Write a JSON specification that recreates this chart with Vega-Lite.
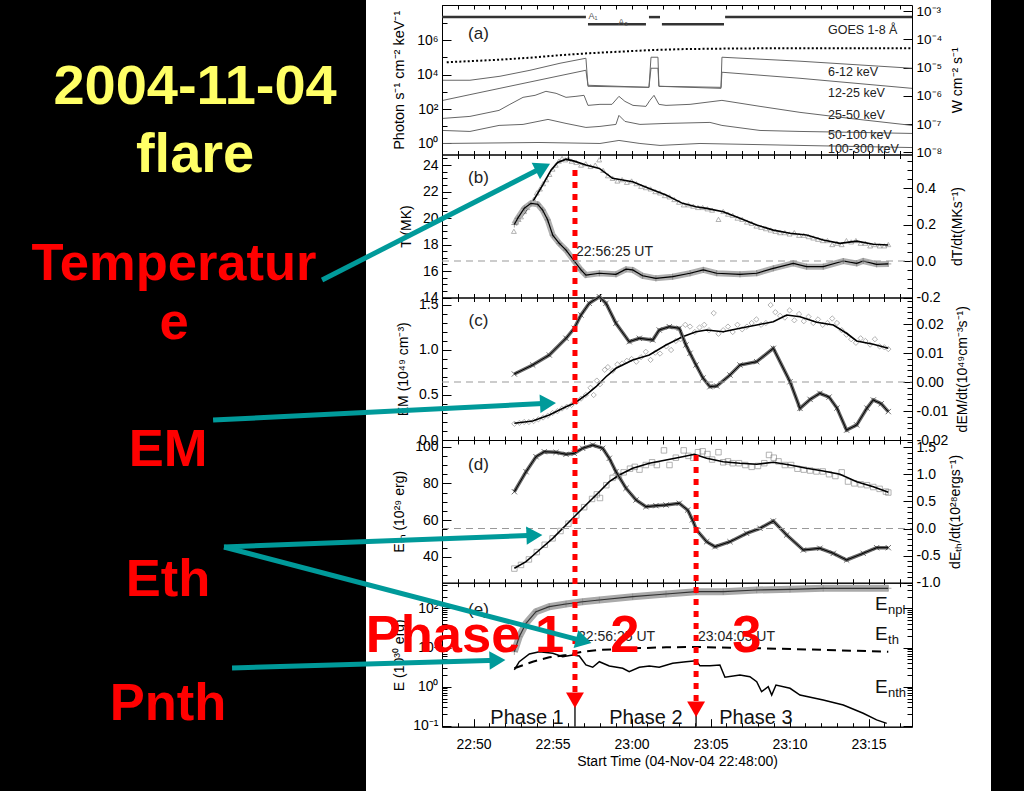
{
"$schema": "https://vega.github.io/schema/vega-lite/v6.json",
"width": 625, "height": 791,
"autosize": "none",
"padding": {"left": 366, "right": 33, "top": 0, "bottom": 0},
"background": "black",
"config": {
 "view": {"fill": "white", "stroke": null},
 "text": {"font": "Liberation Sans"},
 "axis": {"grid": false, "domainColor": "black", "tickColor": "black", "labelColor": "black", "titleColor": "black", "labelFont": "Liberation Sans", "titleFont": "Liberation Sans", "labelFontSize": 14, "titleFontSize": 14, "titleFontWeight": "normal", "labelOverlap": false, "labelFlush": false, "domainWidth": 1, "tickWidth": 1}
},
"datasets": {
 "bands": [
  {"t":0.06,"v":4700,"b":"1"},{"t":1.77,"v":4700,"b":"1"},{"t":3.67,"v":8000,"b":"1"},{"t":5.57,"v":17800,"b":"1"},{"t":7.47,"v":45500,"b":"1"},{"t":9.11,"v":89000,"b":"1"},{"t":9.24,"v":2090,"b":"1"},{"t":11.27,"v":1950,"b":"1"},{"t":13.1,"v":1820,"b":"1"},{"t":13.23,"v":102000,"b":"1"},{"t":13.67,"v":102000,"b":"1"},{"t":13.73,"v":2090,"b":"1"},{"t":15.7,"v":1950,"b":"1"},{"t":17.66,"v":1820,"b":"1"},{"t":17.72,"v":102000,"b":"1"},{"t":22.66,"v":60000,"b":"1"},{"t":29.75,"v":23400,"b":"1"},
  {"t":0.06,"v":318,"b":"2"},{"t":1.77,"v":686,"b":"2"},{"t":3.67,"v":1600,"b":"2"},{"t":5.57,"v":3720,"b":"2"},{"t":7.47,"v":8650,"b":"2"},{"t":9.11,"v":17850,"b":"2"},{"t":9.24,"v":2400,"b":"2"},{"t":13.1,"v":1820,"b":"2"},{"t":13.23,"v":23400,"b":"2"},{"t":13.67,"v":23400,"b":"2"},{"t":13.73,"v":2090,"b":"2"},{"t":17.66,"v":1590,"b":"2"},{"t":17.72,"v":13700,"b":"2"},{"t":22.66,"v":6100,"b":"2"},{"t":29.75,"v":1590,"b":"2"},
  {"t":0.06,"v":28.6,"b":"3"},{"t":1.77,"v":37.4,"b":"3"},{"t":3.61,"v":83.6,"b":"3"},{"t":4.3,"v":187,"b":"3"},{"t":5.13,"v":478,"b":"3"},{"t":5.89,"v":625,"b":"3"},{"t":6.58,"v":1069,"b":"3"},{"t":7.22,"v":817,"b":"3"},{"t":7.85,"v":478,"b":"3"},{"t":8.48,"v":546,"b":"3"},{"t":8.99,"v":625,"b":"3"},{"t":9.24,"v":163,"b":"3"},{"t":10.0,"v":187,"b":"3"},{"t":10.76,"v":187,"b":"3"},{"t":11.2,"v":546,"b":"3"},{"t":11.58,"v":279,"b":"3"},{"t":12.09,"v":163,"b":"3"},{"t":12.91,"v":143,"b":"3"},{"t":13.16,"v":319,"b":"3"},{"t":13.42,"v":625,"b":"3"},{"t":13.73,"v":187,"b":"3"},{"t":14.18,"v":163,"b":"3"},{"t":15.7,"v":187,"b":"3"},{"t":17.72,"v":319,"b":"3"},{"t":20.13,"v":143,"b":"3"},{"t":22.66,"v":64,"b":"3"},{"t":25.82,"v":28.6,"b":"3"},{"t":29.75,"v":11.2,"b":"3"},
  {"t":0.06,"v":5.7,"b":"4"},{"t":1.77,"v":5.0,"b":"4"},{"t":3.61,"v":11.2,"b":"4"},{"t":5.13,"v":12.8,"b":"4"},{"t":6.71,"v":25,"b":"4"},{"t":7.85,"v":14.6,"b":"4"},{"t":9.11,"v":8.55,"b":"4"},{"t":10.0,"v":9.8,"b":"4"},{"t":11.01,"v":12.8,"b":"4"},{"t":11.2,"v":42.7,"b":"4"},{"t":11.58,"v":19.1,"b":"4"},{"t":12.53,"v":12.8,"b":"4"},{"t":14.18,"v":14.6,"b":"4"},{"t":16.96,"v":16.7,"b":"4"},{"t":17.72,"v":11.2,"b":"4"},{"t":20.13,"v":5.7,"b":"4"},{"t":22.66,"v":5.0,"b":"4"},{"t":26.46,"v":4.37,"b":"4"},{"t":29.75,"v":3.82,"b":"4"},
  {"t":0.06,"v":1.0,"b":"5"},{"t":6.14,"v":1.14,"b":"5"},{"t":10.0,"v":1.0,"b":"5"},{"t":11.2,"v":1.5,"b":"5"},{"t":12.53,"v":1.0,"b":"5"},{"t":13.8,"v":0.77,"b":"5"},{"t":16.33,"v":1.0,"b":"5"},{"t":22.66,"v":0.77,"b":"5"},{"t":29.75,"v":0.58,"b":"5"}
 ],
 "atten": [{"t":0,"t2":9.11,"v":2.18e7},{"t":9.24,"t2":12.91,"v":8.5e6},{"t":13.1,"t2":13.8,"v":2.18e7},{"t":13.92,"t2":17.85,"v":8.5e6},{"t":17.92,"t2":29.75,"v":2.18e7}],
 "goes": [{"t":0.3,"v":1.55e-5},{"t":1.77,"v":1.69e-5},{"t":3.67,"v":1.91e-5},{"t":5.57,"v":2.24e-5},{"t":7.47,"v":2.75e-5},{"t":9.37,"v":3.24e-5},{"t":11.27,"v":3.67e-5},{"t":13.16,"v":4.14e-5},{"t":15.06,"v":4.49e-5},{"t":17.59,"v":4.68e-5},{"t":21.39,"v":4.87e-5},{"t":25.82,"v":4.87e-5},{"t":29.75,"v":4.87e-5}],
 "alabels": [{"t":24.43,"v":2.23e6,"text":"GOES 1-8 Å"},{"t":24.43,"v":8530,"text":"6-12 keV"},{"t":24.43,"v":478,"text":"12-25 keV"},{"t":24.43,"v":25,"text":"25-50 keV"},{"t":24.43,"v":1.71,"text":"50-100 keV"},{"t":24.43,"v":0.299,"text":"100-300 keV"}],
 "tline": [{"t":4.58,"v":19.6},{"t":5.11,"v":20.23},{"t":5.74,"v":21.23},{"t":6.37,"v":22.49},{"t":6.9,"v":23.62},{"t":7.32,"v":24.2},{"t":7.85,"v":24.45},{"t":8.37,"v":24.3},{"t":9.11,"v":24.0},{"t":9.96,"v":23.75},{"t":10.8,"v":23.0},{"t":12.07,"v":22.74},{"t":13.12,"v":22.24},{"t":14.18,"v":21.74},{"t":15.23,"v":21.11},{"t":16.08,"v":20.85},{"t":16.75,"v":20.73},{"t":17.8,"v":20.48},{"t":18.86,"v":19.98},{"t":19.92,"v":19.47},{"t":20.97,"v":19.09},{"t":22.03,"v":18.85},{"t":23.08,"v":18.72},{"t":24.13,"v":18.34},{"t":25.19,"v":18.09},{"t":26.25,"v":18.26},{"t":27.3,"v":18.02},{"t":28.25,"v":17.96}],
 "tpts": [{"t":4.55,"v":19.0},{"t":4.7,"v":19.7},{"t":4.85,"v":19.9},{"t":5.0,"v":20.1},{"t":5.2,"v":20.5},{"t":5.4,"v":20.8},{"t":5.6,"v":21.1},{"t":5.8,"v":21.4},{"t":6.0,"v":21.9},{"t":6.2,"v":22.2},{"t":6.4,"v":22.6},{"t":6.6,"v":22.9},{"t":6.8,"v":23.3},{"t":7.0,"v":23.7},{"t":7.2,"v":24.0},{"t":7.4,"v":24.3},{"t":7.6,"v":24.5},{"t":7.8,"v":24.4},{"t":8.0,"v":24.5},{"t":8.2,"v":24.3},{"t":8.5,"v":24.2},{"t":8.8,"v":24.0},{"t":9.1,"v":24.1},{"t":9.4,"v":23.9},{"t":9.7,"v":24.0},{"t":9.95,"v":24.4},{"t":10.2,"v":23.6},{"t":10.5,"v":23.2},{"t":10.8,"v":23.0},{"t":11.1,"v":22.8},{"t":11.4,"v":22.9},{"t":11.7,"v":22.7},{"t":12.0,"v":22.8},{"t":12.3,"v":22.6},{"t":12.6,"v":22.4},{"t":12.9,"v":22.3},{"t":13.2,"v":22.2},{"t":13.5,"v":22.0},{"t":13.8,"v":21.9},{"t":14.1,"v":21.7},{"t":14.4,"v":21.6},{"t":14.7,"v":21.4},{"t":15.0,"v":21.2},{"t":15.3,"v":21.0},{"t":15.6,"v":21.0},{"t":15.9,"v":20.9},{"t":16.2,"v":20.8},{"t":16.5,"v":20.8},{"t":16.8,"v":20.7},{"t":17.1,"v":20.6},{"t":17.5,"v":19.9},{"t":17.8,"v":20.5},{"t":18.1,"v":20.3},{"t":18.4,"v":20.2},{"t":18.7,"v":20.0},{"t":19.0,"v":19.9},{"t":19.3,"v":19.7},{"t":19.6,"v":19.6},{"t":19.9,"v":19.4},{"t":20.2,"v":19.3},{"t":20.5,"v":19.2},{"t":20.8,"v":19.1},{"t":21.1,"v":19.0},{"t":21.4,"v":18.9},{"t":21.7,"v":18.9},{"t":22.0,"v":18.8},{"t":22.3,"v":18.9},{"t":22.6,"v":18.7},{"t":22.9,"v":18.7},{"t":23.2,"v":18.6},{"t":23.5,"v":18.5},{"t":23.8,"v":18.4},{"t":24.1,"v":18.3},{"t":24.4,"v":18.3},{"t":24.7,"v":18.0},{"t":25.0,"v":18.1},{"t":25.3,"v":18.0},{"t":25.6,"v":18.3},{"t":25.9,"v":18.2},{"t":26.2,"v":18.3},{"t":26.5,"v":18.1},{"t":26.8,"v":18.1},{"t":27.1,"v":17.9},{"t":27.4,"v":18.0},{"t":27.7,"v":17.9},{"t":28.0,"v":17.9},{"t":28.25,"v":18.0}],
 "dt": [{"t":4.58,"v":0.2},{"t":4.79,"v":0.234},{"t":5.21,"v":0.289},{"t":5.63,"v":0.316},{"t":6.06,"v":0.311},{"t":6.37,"v":0.279},{"t":6.69,"v":0.225},{"t":7.01,"v":0.142},{"t":7.42,"v":0.097},{"t":7.85,"v":0.06},{"t":8.37,"v":0.0},{"t":8.8,"v":-0.049},{"t":9.11,"v":-0.077},{"t":9.96,"v":-0.067},{"t":11.01,"v":-0.073},{"t":11.65,"v":-0.045},{"t":12.07,"v":-0.049},{"t":12.7,"v":-0.081},{"t":13.54,"v":-0.095},{"t":14.6,"v":-0.086},{"t":15.7,"v":-0.067},{"t":16.54,"v":-0.049},{"t":17.39,"v":-0.067},{"t":18.86,"v":-0.073},{"t":19.92,"v":-0.067},{"t":20.97,"v":-0.04},{"t":22.23,"v":-0.013},{"t":23.08,"v":-0.031},{"t":24.13,"v":-0.031},{"t":25.4,"v":0.0},{"t":26.25,"v":-0.013},{"t":26.66,"v":0.0},{"t":27.51,"v":-0.018},{"t":28.25,"v":-0.016}],
 "emline": [{"t":4.58,"v":0.186},{"t":5.74,"v":0.211},{"t":6.79,"v":0.278},{"t":7.85,"v":0.37},{"t":8.37,"v":0.408},{"t":9.11,"v":0.5},{"t":9.75,"v":0.592},{"t":10.38,"v":0.703},{"t":11.01,"v":0.797},{"t":12.07,"v":0.889},{"t":13.12,"v":0.944},{"t":14.18,"v":1.056},{"t":15.23,"v":1.148},{"t":16.08,"v":1.203},{"t":16.75,"v":1.222},{"t":17.8,"v":1.203},{"t":18.86,"v":1.241},{"t":19.92,"v":1.278},{"t":20.97,"v":1.314},{"t":21.82,"v":1.389},{"t":22.66,"v":1.37},{"t":23.72,"v":1.308},{"t":24.77,"v":1.278},{"t":25.61,"v":1.186},{"t":26.25,"v":1.1},{"t":27.3,"v":1.063},{"t":28.25,"v":1.019}],
 "empts": [{"t":4.58,"v":0.18},{"t":4.9,"v":0.19},{"t":5.2,"v":0.2},{"t":5.5,"v":0.2},{"t":5.8,"v":0.21},{"t":6.1,"v":0.23},{"t":6.4,"v":0.25},{"t":6.7,"v":0.27},{"t":7.0,"v":0.3},{"t":7.3,"v":0.32},{"t":7.6,"v":0.35},{"t":7.9,"v":0.37},{"t":8.2,"v":0.39},{"t":8.5,"v":0.42},{"t":8.8,"v":0.46},{"t":9.1,"v":0.5},{"t":9.4,"v":0.58},{"t":9.6,"v":0.5},{"t":9.8,"v":0.66},{"t":10.0,"v":0.62},{"t":10.3,"v":0.78},{"t":10.5,"v":0.81},{"t":10.8,"v":0.77},{"t":11.1,"v":0.84},{"t":11.4,"v":0.85},{"t":11.7,"v":0.88},{"t":12.0,"v":0.9},{"t":12.3,"v":0.87},{"t":12.6,"v":0.92},{"t":12.9,"v":0.98},{"t":13.2,"v":0.89},{"t":13.5,"v":0.97},{"t":13.8,"v":0.96},{"t":14.2,"v":1.04},{"t":14.5,"v":1.0},{"t":14.8,"v":1.1},{"t":15.1,"v":1.12},{"t":15.4,"v":1.28},{"t":15.7,"v":1.26},{"t":16.0,"v":1.2},{"t":16.3,"v":1.25},{"t":16.6,"v":1.28},{"t":16.9,"v":1.22},{"t":17.2,"v":1.41},{"t":17.5,"v":1.18},{"t":17.8,"v":1.22},{"t":18.1,"v":1.26},{"t":18.4,"v":1.2},{"t":18.7,"v":1.28},{"t":19.0,"v":1.23},{"t":19.3,"v":1.26},{"t":19.6,"v":1.3},{"t":19.9,"v":1.34},{"t":20.2,"v":1.28},{"t":20.5,"v":1.3},{"t":20.8,"v":1.5},{"t":21.1,"v":1.42},{"t":21.4,"v":1.38},{"t":21.7,"v":1.36},{"t":22.0,"v":1.44},{"t":22.3,"v":1.33},{"t":22.6,"v":1.4},{"t":22.9,"v":1.32},{"t":23.2,"v":1.37},{"t":23.5,"v":1.3},{"t":23.8,"v":1.34},{"t":24.1,"v":1.28},{"t":24.4,"v":1.3},{"t":24.7,"v":1.35},{"t":25.0,"v":1.3},{"t":25.3,"v":1.22},{"t":25.6,"v":1.17},{"t":25.9,"v":1.12},{"t":26.2,"v":1.08},{"t":26.5,"v":1.13},{"t":26.8,"v":1.1},{"t":27.1,"v":1.06},{"t":27.4,"v":1.12},{"t":27.7,"v":1.04},{"t":28.0,"v":1.03},{"t":28.25,"v":1.01}],
 "dem": [{"t":4.58,"v":0.00276},{"t":5.74,"v":0.00586},{"t":6.79,"v":0.00931},{"t":7.85,"v":0.01507},{"t":8.37,"v":0.01852},{"t":8.8,"v":0.0231},{"t":9.32,"v":0.02714},{"t":9.96,"v":0.02941},{"t":10.38,"v":0.02714},{"t":11.01,"v":0.02024},{"t":11.85,"v":0.0139},{"t":12.49,"v":0.01507},{"t":13.34,"v":0.01448},{"t":13.75,"v":0.01793},{"t":14.39,"v":0.01907},{"t":15.02,"v":0.01852},{"t":15.44,"v":0.01276},{"t":15.7,"v":0.0099},{"t":16.08,"v":0.00586},{"t":16.52,"v":0.00138},{"t":16.96,"v":-0.00162},{"t":17.39,"v":-0.00138},{"t":18.23,"v":0.00241},{"t":18.86,"v":0.00586},{"t":19.92,"v":0.007},{"t":20.97,"v":0.01162},{"t":22.03,"v":0.0001},{"t":22.66,"v":-0.0091},{"t":23.3,"v":-0.006},{"t":23.92,"v":-0.0039},{"t":24.5,"v":-0.0052},{"t":25.0,"v":-0.009},{"t":25.61,"v":-0.0166},{"t":26.25,"v":-0.0148},{"t":26.9,"v":-0.009},{"t":27.3,"v":-0.0062},{"t":27.8,"v":-0.0075},{"t":28.25,"v":-0.0102}],
 "ethline": [{"t":4.58,"v":33.66},{"t":5.32,"v":37.26},{"t":6.16,"v":43.64},{"t":7.01,"v":50.03},{"t":7.85,"v":57.28},{"t":8.37,"v":61.81},{"t":9.11,"v":68.19},{"t":9.96,"v":75.45},{"t":10.59,"v":80.91},{"t":11.22,"v":84.56},{"t":12.07,"v":88.22},{"t":13.12,"v":90.94},{"t":14.18,"v":92.74},{"t":15.23,"v":94.54},{"t":15.97,"v":95.85},{"t":16.75,"v":93.67},{"t":17.8,"v":91.82},{"t":18.86,"v":90.94},{"t":19.92,"v":90.4},{"t":20.97,"v":91.49},{"t":22.03,"v":90.02},{"t":23.08,"v":88.22},{"t":24.13,"v":86.74},{"t":25.19,"v":84.94},{"t":26.25,"v":80.91},{"t":27.3,"v":78.18},{"t":28.25,"v":75.12}],
 "ethpts": [{"t":4.58,"v":33.5},{"t":5.0,"v":35.5},{"t":5.5,"v":38.5},{"t":6.0,"v":42.5},{"t":6.5,"v":46.5},{"t":7.0,"v":50},{"t":7.5,"v":54},{"t":8.0,"v":58},{"t":8.5,"v":62.5},{"t":9.0,"v":67},{"t":9.5,"v":71.5},{"t":9.8,"v":74},{"t":10.0,"v":72},{"t":10.4,"v":79},{"t":10.8,"v":83},{"t":11.2,"v":84},{"t":11.5,"v":86},{"t":11.9,"v":88},{"t":12.2,"v":89},{"t":12.5,"v":87.5},{"t":12.9,"v":90},{"t":13.3,"v":91.5},{"t":13.6,"v":90},{"t":14.05,"v":98},{"t":14.4,"v":90},{"t":14.8,"v":94},{"t":15.3,"v":98},{"t":15.6,"v":95},{"t":15.9,"v":94},{"t":16.2,"v":97},{"t":16.5,"v":97.5},{"t":16.8,"v":96},{"t":17.1,"v":93},{"t":17.5,"v":97},{"t":17.8,"v":91.5},{"t":18.1,"v":92},{"t":18.4,"v":91},{"t":18.8,"v":91},{"t":19.2,"v":90},{"t":19.6,"v":89},{"t":20.0,"v":89.5},{"t":20.4,"v":91},{"t":20.7,"v":95.5},{"t":21.0,"v":94},{"t":21.3,"v":92},{"t":21.7,"v":90},{"t":22.1,"v":90},{"t":22.5,"v":88},{"t":22.9,"v":87.5},{"t":23.3,"v":87},{"t":23.7,"v":86.5},{"t":24.1,"v":86.5},{"t":24.5,"v":85},{"t":24.9,"v":84},{"t":25.3,"v":86},{"t":25.7,"v":81},{"t":26.1,"v":80},{"t":26.5,"v":79.5},{"t":26.9,"v":79},{"t":27.3,"v":78},{"t":27.7,"v":77},{"t":28.1,"v":75.5},{"t":28.25,"v":75}],
 "deth": [{"t":4.58,"v":0.679},{"t":5.32,"v":1.048},{"t":5.95,"v":1.325},{"t":6.47,"v":1.417},{"t":7.22,"v":1.406},{"t":7.85,"v":1.369},{"t":8.37,"v":1.387},{"t":8.9,"v":1.48},{"t":9.54,"v":1.541},{"t":10.17,"v":1.48},{"t":10.59,"v":1.295},{"t":11.01,"v":1.048},{"t":11.65,"v":0.742},{"t":12.28,"v":0.526},{"t":12.91,"v":0.402},{"t":13.54,"v":0.421},{"t":14.18,"v":0.434},{"t":15.02,"v":0.465},{"t":15.55,"v":0.341},{"t":15.85,"v":0.16},{"t":16.12,"v":-0.03},{"t":16.75,"v":-0.244},{"t":17.28,"v":-0.336},{"t":18.23,"v":-0.244},{"t":19.28,"v":-0.089},{"t":20.13,"v":0.004},{"t":20.97,"v":0.138},{"t":21.82,"v":-0.12},{"t":22.87,"v":-0.397},{"t":23.92,"v":-0.365},{"t":24.77,"v":-0.458},{"t":25.61,"v":-0.581},{"t":26.66,"v":-0.458},{"t":27.51,"v":-0.354},{"t":28.25,"v":-0.354}],
 "enpl": [{"t":4.58,"v":7.8},{"t":4.89,"v":18.9},{"t":5.32,"v":41.4},{"t":5.95,"v":81.9},{"t":6.79,"v":110},{"t":7.85,"v":129},{"t":8.9,"v":147},{"t":9.96,"v":163},{"t":12.07,"v":198},{"t":14.18,"v":232},{"t":16.08,"v":265},{"t":17.8,"v":265},{"t":19.92,"v":293},{"t":22.03,"v":305},{"t":24.13,"v":324},{"t":28.25,"v":324}],
 "ethe": [{"t":4.58,"v":2.95},{"t":5.74,"v":4.34},{"t":6.79,"v":5.62},{"t":7.85,"v":6.44},{"t":8.9,"v":7.81},{"t":9.96,"v":8.64},{"t":12.07,"v":9.55},{"t":14.18,"v":10.1},{"t":16.08,"v":10.3},{"t":19.92,"v":9.6},{"t":24.13,"v":8.7},{"t":28.25,"v":7.8}],
 "enth": [{"t":4.58,"v":2.67},{"t":4.89,"v":4.34},{"t":5.53,"v":6.83},{"t":6.16,"v":7.81},{"t":7.01,"v":7.11},{"t":7.64,"v":5.82},{"t":8.27,"v":6.44},{"t":8.69,"v":6.07},{"t":9.11,"v":3.58},{"t":9.54,"v":3.13},{"t":9.96,"v":4.34},{"t":10.59,"v":3.37},{"t":11.44,"v":2.95},{"t":11.85,"v":2.41},{"t":12.49,"v":3.13},{"t":13.12,"v":3.37},{"t":13.75,"v":3.13},{"t":14.6,"v":3.95},{"t":15.44,"v":4.34},{"t":16.08,"v":4.61},{"t":16.33,"v":3.4},{"t":16.96,"v":3.4},{"t":17.59,"v":3.58},{"t":17.91,"v":1.74},{"t":18.86,"v":1.99},{"t":19.49,"v":1.8},{"t":19.92,"v":1.34},{"t":20.23,"v":0.745},{"t":20.65,"v":1.0},{"t":20.87,"v":0.614},{"t":21.14,"v":1.1},{"t":22.03,"v":0.91},{"t":22.66,"v":0.614},{"t":24.13,"v":0.458},{"t":25.4,"v":0.341},{"t":26.66,"v":0.21},{"t":27.51,"v":0.142},{"t":28.15,"v":0.116}]
},
"encoding": {"x": {"field": "t", "type": "quantitative", "scale": {"domain": [0, 29.75], "range": [76, 546], "nice": false, "zero": false}, "axis": null}},
"resolve": {"scale": {"x": "independent", "y": "independent"}},
"layer": [
 {"data": {"values": [{"t": 0, "v": 1}]}, "mark": {"type": "point", "opacity": 0},
  "encoding": {
   "x": {"field": "t", "type": "quantitative", "scale": {"domain": [0, 29.75], "range": [76, 546], "nice": false, "zero": false}, "axis": {"orient": "top", "offset": -5, "values": [0,1,2,3,4,5,6,7,8,9,10,11,12,13,14,15,16,17,18,19,20,21,22,23,24,25,26,27,28,29], "tickSize": -4, "labels": false, "title": null}},
   "y": {"field": "v", "type": "quantitative", "scale": {"type": "log", "domain": [0.229, 1.1e8], "range": [154.5, 5], "nice": false}, "axis": {"orient": "left", "offset": -76, "values": [1, 100, 10000, 1000000], "tickSize": -9, "labelPadding": 13, "labelExpr": "'10' + (datum.value < 1 ? '⁻' : '') + substring('⁰¹²³⁴⁵⁶⁷⁸⁹', abs(round(log(datum.value)/LN10)), abs(round(log(datum.value)/LN10)) + 1)", "title": "Photon s⁻¹ cm⁻² keV⁻¹", "titleFontSize": 14.5, "titlePadding": 10}}}},
 {"data": {"values": [{"t": 0, "v": 1}]}, "mark": {"type": "point", "opacity": 0},
  "encoding": {
   "x": {"field": "t", "type": "quantitative", "scale": {"domain": [0, 29.75], "range": [76, 546], "nice": false, "zero": false}, "axis": {"orient": "bottom", "offset": -636.5, "values": [0,1,2,3,4,5,6,7,8,9,10,11,12,13,14,15,16,17,18,19,20,21,22,23,24,25,26,27,28,29], "tickSize": -4, "labels": false, "title": null}},
   "y": {"field": "v", "type": "quantitative", "scale": {"type": "log", "domain": [0.229, 1.1e8], "range": [154.5, 5], "nice": false}, "axis": {"orient": "left", "offset": -76, "values": [10, 1000, 100000, 10000000], "tickSize": -5, "labels": false, "title": null}}}},
 {"data": {"values": [{"t": 0, "v": 1e-6}]}, "mark": {"type": "point", "opacity": 0},
  "encoding": {
   "x": {"field": "t", "type": "quantitative", "scale": {"domain": [0, 29.75], "range": [76, 546], "nice": false, "zero": false}, "axis": {"orient": "top", "offset": -154.5, "values": [0,1,2,3,4,5,6,7,8,9,10,11,12,13,14,15,16,17,18,19,20,21,22,23,24,25,26,27,28,29], "tickSize": -4, "labels": false, "title": null}},
   "y": {"field": "v", "type": "quantitative", "scale": {"type": "log", "domain": [8.49e-9, 1.633e-3], "range": [154.5, 5], "nice": false}, "axis": {"orient": "right", "offset": -79, "values": [1e-8, 1e-7, 1e-6, 1e-5, 1e-4, 1e-3], "tickSize": -9, "labelPadding": 13, "labelFontSize": 13.5, "labelExpr": "'10' + (datum.value < 1 ? '⁻' : '') + substring('⁰¹²³⁴⁵⁶⁷⁸⁹', abs(round(log(datum.value)/LN10)), abs(round(log(datum.value)/LN10)) + 1)", "title": "W cm⁻² s⁻¹", "titleAngle": -90, "titleBaseline": "top", "titlePadding": 9}}}},
 {"data": {"values": [{"t": 0, "v": 20}]}, "mark": {"type": "point", "opacity": 0},
  "encoding": {
   "x": {"field": "t", "type": "quantitative", "scale": {"domain": [0, 29.75], "range": [76, 546], "nice": false, "zero": false}, "axis": {"orient": "bottom", "offset": -493.5, "values": [0,1,2,3,4,5,6,7,8,9,10,11,12,13,14,15,16,17,18,19,20,21,22,23,24,25,26,27,28,29], "tickSize": -4, "labels": false, "title": null}},
   "y": {"field": "v", "type": "quantitative", "scale": {"domain": [14, 24.8], "range": [297.5, 154.5], "nice": false, "zero": false}, "axis": {"orient": "left", "offset": -76, "values": [14, 16, 18, 20, 22, 24], "format": "d", "tickSize": -9, "labelPadding": 13, "title": "T (MK)", "titlePadding": 9}}}},
 {"data": {"values": [{"t": 0, "v": 20}]}, "mark": {"type": "point", "opacity": 0},
  "encoding": {
   "x": {"field": "t", "type": "quantitative", "scale": {"domain": [0, 29.75], "range": [76, 546], "nice": false, "zero": false}, "axis": {"orient": "top", "offset": -297.5, "values": [0,1,2,3,4,5,6,7,8,9,10,11,12,13,14,15,16,17,18,19,20,21,22,23,24,25,26,27,28,29], "tickSize": -4, "labels": false, "title": null}},
   "y": {"field": "v", "type": "quantitative", "scale": {"domain": [14, 24.8], "range": [297.5, 154.5], "nice": false, "zero": false}, "axis": {"orient": "left", "offset": -76, "values": [14,14.5,15,15.5,16,16.5,17,17.5,18,18.5,19,19.5,20,20.5,21,21.5,22,22.5,23,23.5,24,24.5], "tickSize": -5, "labels": false, "title": null}}}},
 {"data": {"values": [{"t": 0, "v": 0}]}, "mark": {"type": "point", "opacity": 0},
  "encoding": {
   "x": {"field": "t", "type": "quantitative", "scale": {"domain": [0, 29.75], "range": [76, 546], "nice": false, "zero": false}, "axis": {"orient": "bottom", "offset": -351, "values": [0,1,2,3,4,5,6,7,8,9,10,11,12,13,14,15,16,17,18,19,20,21,22,23,24,25,26,27,28,29], "tickSize": -4, "labels": false, "title": null}},
   "y": {"field": "v", "type": "quantitative", "scale": {"domain": [-0.2, 0.5836], "range": [297.5, 154.5], "nice": false, "zero": false}, "axis": {"orient": "right", "offset": -79, "values": [-0.2, 0, 0.2, 0.4], "labelExpr": "replace(format(datum.value, '.1f'), '−', '-')", "tickSize": -9, "labelPadding": 13, "title": "dT/dt(MKs⁻¹)", "titleAngle": -90, "titleBaseline": "top", "titlePadding": 10}}}},
 {"data": {"values": [{"t": 0, "v": 0}]}, "mark": {"type": "point", "opacity": 0},
  "encoding": {
   "x": {"field": "t", "type": "quantitative", "scale": {"domain": [0, 29.75], "range": [76, 546], "nice": false, "zero": false}, "axis": {"orient": "top", "offset": -440, "values": [0,1,2,3,4,5,6,7,8,9,10,11,12,13,14,15,16,17,18,19,20,21,22,23,24,25,26,27,28,29], "tickSize": -4, "labels": false, "title": null}},
   "y": {"field": "v", "type": "quantitative", "scale": {"domain": [-0.2, 0.5836], "range": [297.5, 154.5], "nice": false, "zero": false}, "axis": {"orient": "right", "offset": -79, "values": [-0.2,-0.15,-0.1,-0.05,0,0.05,0.1,0.15,0.2,0.25,0.3,0.35,0.4,0.45,0.5,0.55], "tickSize": -5, "labels": false, "title": null}}}},
 {"data": {"values": [{"t": 0, "v": 1}]}, "mark": {"type": "point", "opacity": 0},
  "encoding": {
   "x": {"field": "t", "type": "quantitative", "scale": {"domain": [0, 29.75], "range": [76, 546], "nice": false, "zero": false}, "axis": {"orient": "bottom", "offset": -208.3, "values": [0,1,2,3,4,5,6,7,8,9,10,11,12,13,14,15,16,17,18,19,20,21,22,23,24,25,26,27,28,29], "tickSize": -4, "labels": false, "title": null}},
   "y": {"field": "v", "type": "quantitative", "scale": {"domain": [0, 1.5833], "range": [440, 297.5], "nice": false, "zero": false}, "axis": {"orient": "left", "offset": -76, "values": [0, 0.5, 1, 1.5], "format": ".1f", "tickSize": -9, "labelPadding": 13, "title": "EM (10⁴⁹ cm⁻³)", "titlePadding": 8}}}},
 {"data": {"values": [{"t": 0, "v": 1}]}, "mark": {"type": "point", "opacity": 0},
  "encoding": {
   "x": {"field": "t", "type": "quantitative", "scale": {"domain": [0, 29.75], "range": [76, 546], "nice": false, "zero": false}, "axis": {"orient": "top", "offset": -582.7, "values": [0,1,2,3,4,5,6,7,8,9,10,11,12,13,14,15,16,17,18,19,20,21,22,23,24,25,26,27,28,29], "tickSize": -4, "labels": false, "title": null}},
   "y": {"field": "v", "type": "quantitative", "scale": {"domain": [0, 1.5833], "range": [440, 297.5], "nice": false, "zero": false}, "axis": {"orient": "left", "offset": -76, "values": [0,0.1,0.2,0.3,0.4,0.5,0.6,0.7,0.8,0.9,1,1.1,1.2,1.3,1.4,1.5], "tickSize": -5, "labels": false, "title": null}}}},
 {"data": {"values": [{"t": 0, "v": 0}]}, "mark": {"type": "point", "opacity": 0},
  "encoding": {
   "x": {"field": "t", "type": "quantitative", "scale": {"domain": [0, 29.75], "range": [76, 546], "nice": false, "zero": false}, "axis": {"orient": "bottom", "offset": -64.3, "values": [2, 7, 12, 17, 22, 27], "tickSize": -8, "labelPadding": 19, "labelExpr": "floor((1368 + datum.value) / 60) + ':' + ((1368 + datum.value) % 60 < 10 ? '0' : '') + ((1368 + datum.value) % 60)", "title": "Start Time (04-Nov-04 22:48:00)", "titlePadding": 3}},
   "y": {"field": "v", "type": "quantitative", "scale": {"domain": [-0.02, 0.02914], "range": [440, 297.5], "nice": false, "zero": false}, "axis": {"orient": "right", "offset": -79, "values": [-0.02, -0.01, 0, 0.01, 0.02], "labelExpr": "replace(format(datum.value, '.2f'), '−', '-')", "tickSize": -9, "labelPadding": 13, "title": "dEM/dt(10⁴⁹cm⁻³s⁻¹)", "titleAngle": -90, "titleBaseline": "top", "titlePadding": 8}}}},
 {"data": {"values": [{"t": 0, "v": 0}]}, "mark": {"type": "point", "opacity": 0},
  "encoding": {
   "x": {"field": "t", "type": "quantitative", "scale": {"domain": [0, 29.75], "range": [76, 546], "nice": false, "zero": false}, "axis": {"orient": "bottom", "offset": -64.3, "values": [0,1,2,3,4,5,6,7,8,9,10,11,12,13,14,15,16,17,18,19,20,21,22,23,24,25,26,27,28,29], "tickSize": -4, "labels": false, "title": null}},
   "y": {"field": "v", "type": "quantitative", "scale": {"domain": [-0.02, 0.02914], "range": [440, 297.5], "nice": false, "zero": false}, "axis": {"orient": "right", "offset": -79, "values": [-0.02,-0.018,-0.016,-0.014,-0.012,-0.01,-0.008,-0.006,-0.004,-0.002,0,0.002,0.004,0.006,0.008,0.01,0.012,0.014,0.016,0.018,0.02,0.022,0.024,0.026,0.028], "tickSize": -5, "labels": false, "title": null}}}},
 {"data": {"values": [{"t": 0, "v": 50}]}, "mark": {"type": "point", "opacity": 0},
  "encoding": {"y": {"field": "v", "type": "quantitative", "scale": {"domain": [25.8, 103.66], "range": [582.7, 440], "nice": false, "zero": false}, "axis": {"orient": "left", "offset": -76, "values": [40, 60, 80, 100], "format": "d", "tickSize": -9, "labelPadding": 13, "title": "Eₜₕ (10²⁹ erg)", "titlePadding": 8}}}},
 {"data": {"values": [{"t": 0, "v": 50}]}, "mark": {"type": "point", "opacity": 0},
  "encoding": {"y": {"field": "v", "type": "quantitative", "scale": {"domain": [25.8, 103.66], "range": [582.7, 440], "nice": false, "zero": false}, "axis": {"orient": "left", "offset": -76, "values": [30,35,40,45,50,55,60,65,70,75,80,85,90,95,100], "tickSize": -5, "labels": false, "title": null}}}},
 {"data": {"values": [{"t": 0, "v": 0}]}, "mark": {"type": "point", "opacity": 0},
  "encoding": {"y": {"field": "v", "type": "quantitative", "scale": {"domain": [-1.0, 1.633], "range": [582.7, 440], "nice": false, "zero": false}, "axis": {"orient": "right", "offset": -79, "values": [-1, -0.5, 0, 0.5, 1, 1.5], "labelExpr": "replace(format(datum.value, '.1f'), '−', '-')", "tickSize": -9, "labelPadding": 13, "title": "dEₜₕ/dt(10²⁸ergs⁻¹)", "titleAngle": -90, "titleBaseline": "top", "titlePadding": 8}}}},
 {"data": {"values": [{"t": 0, "v": 0}]}, "mark": {"type": "point", "opacity": 0},
  "encoding": {"y": {"field": "v", "type": "quantitative", "scale": {"domain": [-1.0, 1.633], "range": [582.7, 440], "nice": false, "zero": false}, "axis": {"orient": "right", "offset": -79, "values": [-1,-0.9,-0.8,-0.7,-0.6,-0.5,-0.4,-0.3,-0.2,-0.1,0,0.1,0.2,0.3,0.4,0.5,0.6,0.7,0.8,0.9,1,1.1,1.2,1.3,1.4,1.5,1.6], "tickSize": -5, "labels": false, "title": null}}}},
 {"data": {"values": [{"t": 0, "v": 1}]}, "mark": {"type": "point", "opacity": 0},
  "encoding": {"y": {"field": "v", "type": "quantitative", "scale": {"type": "log", "domain": [0.0954, 450], "range": [726.7, 582.7], "nice": false}, "axis": {"orient": "left", "offset": -76, "values": [0.1, 1, 10, 100], "labelExpr": "'10' + (datum.value < 1 ? '⁻' : '') + substring('⁰¹²³⁴⁵⁶⁷⁸⁹', abs(round(log(datum.value)/LN10)), abs(round(log(datum.value)/LN10)) + 1)", "tickSize": -9, "labelPadding": 13, "title": "E (10³⁰ erg)", "titlePadding": 6}}}},
 {"data": {"values": [{"t": 0, "v": 1}]}, "mark": {"type": "point", "opacity": 0},
  "encoding": {"y": {"field": "v", "type": "quantitative", "scale": {"type": "log", "domain": [0.0954, 450], "range": [726.7, 582.7], "nice": false}, "axis": {"orient": "left", "offset": -76, "values": [0.2,0.3,0.4,0.5,0.6,0.7,0.8,0.9,2,3,4,5,6,7,8,9,20,30,40,50,60,70,80,90,200,300,400], "tickSize": -5, "labels": false, "title": null}}}},
 {"data": {"values": [{"t": 0, "v": 1}]}, "mark": {"type": "point", "opacity": 0},
  "encoding": {"y": {"field": "v", "type": "quantitative", "scale": {"type": "log", "domain": [0.0954, 450], "range": [726.7, 582.7], "nice": false}, "axis": {"orient": "right", "offset": -79, "values": [0.1, 1, 10, 100], "tickSize": -9, "labels": false, "title": null}}}},
 {"data": {"values": [{"t": 0, "v": 1}]}, "mark": {"type": "point", "opacity": 0},
  "encoding": {"y": {"field": "v", "type": "quantitative", "scale": {"type": "log", "domain": [0.0954, 450], "range": [726.7, 582.7], "nice": false}, "axis": {"orient": "right", "offset": -79, "values": [0.2,0.3,0.4,0.5,0.6,0.7,0.8,0.9,2,3,4,5,6,7,8,9,20,30,40,50,60,70,80,90,200,300,400], "tickSize": -5, "labels": false, "title": null}}}},

 {"data": {"name": "bands"}, "mark": {"type": "line", "stroke": "#666", "strokeWidth": 1},
  "encoding": {"y": {"field": "v", "type": "quantitative", "scale": {"type": "log", "domain": [0.229, 1.1e8], "range": [154.5, 5], "nice": false}, "axis": null}, "detail": {"field": "b"}}},
 {"data": {"name": "atten"}, "mark": {"type": "rule", "stroke": "#333", "strokeWidth": 2.5},
  "encoding": {"x2": {"field": "t2"}, "y": {"field": "v", "type": "quantitative", "scale": {"type": "log", "domain": [0.229, 1.1e8], "range": [154.5, 5], "nice": false}, "axis": null}}},
 {"data": {"values": [{"t": 9.56, "v": 2.49e7, "text": "A₁"}, {"t": 11.46, "v": 1.11e7, "text": "A₃"}]}, "mark": {"type": "text", "fontSize": 9, "color": "#555", "baseline": "middle", "align": "center"},
  "encoding": {"y": {"field": "v", "type": "quantitative", "scale": {"type": "log", "domain": [0.229, 1.1e8], "range": [154.5, 5], "nice": false}, "axis": null}, "text": {"field": "text"}}},
 {"data": {"name": "goes"}, "mark": {"type": "line", "stroke": "black", "strokeWidth": 2, "strokeDash": [2, 2.2]},
  "encoding": {"y": {"field": "v", "type": "quantitative", "scale": {"type": "log", "domain": [8.49e-9, 1.633e-3], "range": [154.5, 5], "nice": false}, "axis": null}}},
 {"data": {"name": "alabels"}, "mark": {"type": "text", "fontSize": 12.5, "color": "#222", "align": "left", "baseline": "alphabetic"},
  "encoding": {"y": {"field": "v", "type": "quantitative", "scale": {"type": "log", "domain": [0.229, 1.1e8], "range": [154.5, 5], "nice": false}, "axis": null}, "text": {"field": "text"}}},
 {"data": {"values": [{"t": 2.31, "v": 2.23e6, "text": "(a)"}]}, "mark": {"type": "text", "fontSize": 17, "color": "#222", "align": "center", "baseline": "middle"},
  "encoding": {"y": {"field": "v", "type": "quantitative", "scale": {"type": "log", "domain": [0.229, 1.1e8], "range": [154.5, 5], "nice": false}, "axis": null}, "text": {"field": "text"}}},

 {"data": {"name": "tpts"}, "mark": {"type": "point", "shape": "triangle-up", "filled": false, "stroke": "#777", "strokeWidth": 0.8, "size": 24},
  "encoding": {"y": {"field": "v", "type": "quantitative", "scale": {"domain": [14, 24.8], "range": [297.5, 154.5], "nice": false, "zero": false}, "axis": null}}},
 {"data": {"name": "tline"}, "mark": {"type": "line", "stroke": "black", "strokeWidth": 1.6},
  "encoding": {"y": {"field": "v", "type": "quantitative", "scale": {"domain": [14, 24.8], "range": [297.5, 154.5], "nice": false, "zero": false}, "axis": null}}},
 {"data": {"name": "dt"}, "mark": {"type": "line", "stroke": "#b0b0b0", "strokeWidth": 6},
  "encoding": {"y": {"field": "v", "type": "quantitative", "scale": {"domain": [-0.2, 0.5836], "range": [297.5, 154.5], "nice": false, "zero": false}, "axis": null}}},
 {"data": {"name": "dt"}, "mark": {"type": "point", "shape": "M-1,0H1M0,-1V1", "filled": false, "stroke": "#777", "strokeWidth": 1, "size": 36},
  "encoding": {"y": {"field": "v", "type": "quantitative", "scale": {"domain": [-0.2, 0.5836], "range": [297.5, 154.5], "nice": false, "zero": false}, "axis": null}}},
 {"data": {"name": "dt"}, "mark": {"type": "line", "stroke": "black", "strokeWidth": 1.2},
  "encoding": {"y": {"field": "v", "type": "quantitative", "scale": {"domain": [-0.2, 0.5836], "range": [297.5, 154.5], "nice": false, "zero": false}, "axis": null}}},
 {"data": {"values": [{"t": 0, "t2": 29.75, "v": 0}]}, "mark": {"type": "rule", "stroke": "#999", "strokeWidth": 1, "strokeDash": [7, 5]},
  "encoding": {"x2": {"field": "t2"}, "y": {"field": "v", "type": "quantitative", "scale": {"domain": [-0.2, 0.5836], "range": [297.5, 154.5], "nice": false, "zero": false}, "axis": null}}},
 {"data": {"values": [{"t": 2.31, "v": 23.02, "text": "(b)"}]}, "mark": {"type": "text", "fontSize": 17, "color": "#222", "align": "center", "baseline": "middle"},
  "encoding": {"y": {"field": "v", "type": "quantitative", "scale": {"domain": [14, 24.8], "range": [297.5, 154.5], "nice": false, "zero": false}, "axis": null}, "text": {"field": "text"}}},
 {"data": {"values": [{"t": 8.48, "v": 17.46, "text": "22:56:25 UT"}]}, "mark": {"type": "text", "fontSize": 14, "color": "#222", "align": "left", "baseline": "middle"},
  "encoding": {"y": {"field": "v", "type": "quantitative", "scale": {"domain": [14, 24.8], "range": [297.5, 154.5], "nice": false, "zero": false}, "axis": null}, "text": {"field": "text"}}},

 {"data": {"name": "empts"}, "mark": {"type": "point", "shape": "diamond", "filled": false, "stroke": "#777", "strokeWidth": 0.8, "size": 28},
  "encoding": {"y": {"field": "v", "type": "quantitative", "scale": {"domain": [0, 1.5833], "range": [440, 297.5], "nice": false, "zero": false}, "axis": null}}},
 {"data": {"name": "emline"}, "mark": {"type": "line", "stroke": "black", "strokeWidth": 1.6},
  "encoding": {"y": {"field": "v", "type": "quantitative", "scale": {"domain": [0, 1.5833], "range": [440, 297.5], "nice": false, "zero": false}, "axis": null}}},
 {"data": {"name": "dem"}, "mark": {"type": "line", "stroke": "#666", "strokeWidth": 3.5},
  "encoding": {"y": {"field": "v", "type": "quantitative", "scale": {"domain": [-0.02, 0.02914], "range": [440, 297.5], "nice": false, "zero": false}, "axis": null}}},
 {"data": {"name": "dem"}, "mark": {"type": "point", "shape": "M-1,-1L1,1M-1,1L1,-1", "filled": false, "stroke": "#333", "strokeWidth": 1, "size": 28},
  "encoding": {"y": {"field": "v", "type": "quantitative", "scale": {"domain": [-0.02, 0.02914], "range": [440, 297.5], "nice": false, "zero": false}, "axis": null}}},
 {"data": {"name": "dem"}, "mark": {"type": "line", "stroke": "black", "strokeWidth": 1},
  "encoding": {"y": {"field": "v", "type": "quantitative", "scale": {"domain": [-0.02, 0.02914], "range": [440, 297.5], "nice": false, "zero": false}, "axis": null}}},
 {"data": {"values": [{"t": 0, "t2": 29.75, "v": 0}]}, "mark": {"type": "rule", "stroke": "#999", "strokeWidth": 1, "strokeDash": [7, 5]},
  "encoding": {"x2": {"field": "t2"}, "y": {"field": "v", "type": "quantitative", "scale": {"domain": [-0.02, 0.02914], "range": [440, 297.5], "nice": false, "zero": false}, "axis": null}}},
 {"data": {"values": [{"t": 2.31, "v": 1.317, "text": "(c)"}]}, "mark": {"type": "text", "fontSize": 17, "color": "#222", "align": "center", "baseline": "middle"},
  "encoding": {"y": {"field": "v", "type": "quantitative", "scale": {"domain": [0, 1.5833], "range": [440, 297.5], "nice": false, "zero": false}, "axis": null}, "text": {"field": "text"}}},

 {"data": {"name": "ethpts"}, "mark": {"type": "point", "shape": "square", "filled": false, "stroke": "#777", "strokeWidth": 0.8, "size": 30},
  "encoding": {"y": {"field": "v", "type": "quantitative", "scale": {"domain": [25.8, 103.66], "range": [582.7, 440], "nice": false, "zero": false}, "axis": null}}},
 {"data": {"name": "ethline"}, "mark": {"type": "line", "stroke": "black", "strokeWidth": 1.6},
  "encoding": {"y": {"field": "v", "type": "quantitative", "scale": {"domain": [25.8, 103.66], "range": [582.7, 440], "nice": false, "zero": false}, "axis": null}}},
 {"data": {"name": "deth"}, "mark": {"type": "line", "stroke": "#666", "strokeWidth": 3.5},
  "encoding": {"y": {"field": "v", "type": "quantitative", "scale": {"domain": [-1.0, 1.633], "range": [582.7, 440], "nice": false, "zero": false}, "axis": null}}},
 {"data": {"name": "deth"}, "mark": {"type": "point", "shape": "M-1,-1L1,1M-1,1L1,-1", "filled": false, "stroke": "#333", "strokeWidth": 1, "size": 28},
  "encoding": {"y": {"field": "v", "type": "quantitative", "scale": {"domain": [-1.0, 1.633], "range": [582.7, 440], "nice": false, "zero": false}, "axis": null}}},
 {"data": {"name": "deth"}, "mark": {"type": "line", "stroke": "black", "strokeWidth": 1},
  "encoding": {"y": {"field": "v", "type": "quantitative", "scale": {"domain": [-1.0, 1.633], "range": [582.7, 440], "nice": false, "zero": false}, "axis": null}}},
 {"data": {"values": [{"t": 0, "t2": 29.75, "v": 0}]}, "mark": {"type": "rule", "stroke": "#999", "strokeWidth": 1, "strokeDash": [7, 5]},
  "encoding": {"x2": {"field": "t2"}, "y": {"field": "v", "type": "quantitative", "scale": {"domain": [-1.0, 1.633], "range": [582.7, 440], "nice": false, "zero": false}, "axis": null}}},
 {"data": {"values": [{"t": 2.31, "v": 90.0, "text": "(d)"}]}, "mark": {"type": "text", "fontSize": 17, "color": "#222", "align": "center", "baseline": "middle"},
  "encoding": {"y": {"field": "v", "type": "quantitative", "scale": {"domain": [25.8, 103.66], "range": [582.7, 440], "nice": false, "zero": false}, "axis": null}, "text": {"field": "text"}}},

 {"data": {"name": "enpl"}, "mark": {"type": "line", "stroke": "#aaa", "strokeWidth": 7},
  "encoding": {"y": {"field": "v", "type": "quantitative", "scale": {"type": "log", "domain": [0.0954, 450], "range": [726.7, 582.7], "nice": false}, "axis": null}}},
 {"data": {"name": "enpl"}, "mark": {"type": "point", "shape": "M-1,0H1M0,-1V1", "filled": false, "stroke": "#888", "strokeWidth": 1, "size": 40},
  "encoding": {"y": {"field": "v", "type": "quantitative", "scale": {"type": "log", "domain": [0.0954, 450], "range": [726.7, 582.7], "nice": false}, "axis": null}}},
 {"data": {"name": "enpl"}, "mark": {"type": "line", "stroke": "#333", "strokeWidth": 1.2},
  "encoding": {"y": {"field": "v", "type": "quantitative", "scale": {"type": "log", "domain": [0.0954, 450], "range": [726.7, 582.7], "nice": false}, "axis": null}}},
 {"data": {"name": "ethe"}, "mark": {"type": "line", "stroke": "black", "strokeWidth": 2, "strokeDash": [9, 6]},
  "encoding": {"y": {"field": "v", "type": "quantitative", "scale": {"type": "log", "domain": [0.0954, 450], "range": [726.7, 582.7], "nice": false}, "axis": null}}},
 {"data": {"name": "enth"}, "mark": {"type": "line", "stroke": "black", "strokeWidth": 1.5},
  "encoding": {"y": {"field": "v", "type": "quantitative", "scale": {"type": "log", "domain": [0.0954, 450], "range": [726.7, 582.7], "nice": false}, "axis": null}}},
 {"data": {"values": [{"t": 27.41, "v": 90.5, "sub": "npl"}, {"t": 27.41, "v": 15.5, "sub": "th"}, {"t": 27.41, "v": 0.69, "sub": "nth"}]}, "mark": {"type": "text", "fontSize": 19, "color": "#111", "align": "left", "baseline": "alphabetic", "text": "E"},
  "encoding": {"y": {"field": "v", "type": "quantitative", "scale": {"type": "log", "domain": [0.0954, 450], "range": [726.7, 582.7], "nice": false}, "axis": null}}},
 {"data": {"values": [{"t": 27.41, "v": 90.5, "sub": "npl"}, {"t": 27.41, "v": 15.5, "sub": "th"}, {"t": 27.41, "v": 0.69, "sub": "nth"}]}, "mark": {"type": "text", "fontSize": 13, "color": "#111", "align": "left", "baseline": "alphabetic", "dx": 13, "dy": 4},
  "encoding": {"y": {"field": "v", "type": "quantitative", "scale": {"type": "log", "domain": [0.0954, 450], "range": [726.7, 582.7], "nice": false}, "axis": null}, "text": {"field": "sub"}}},
 {"data": {"values": [{"t": 2.31, "v": 90.5, "text": "(e)"}]}, "mark": {"type": "text", "fontSize": 17, "color": "#222", "align": "center", "baseline": "middle"},
  "encoding": {"y": {"field": "v", "type": "quantitative", "scale": {"type": "log", "domain": [0.0954, 450], "range": [726.7, 582.7], "nice": false}, "axis": null}, "text": {"field": "text"}}},
 {"data": {"values": [{"t": 8.61, "v": 18.9, "text": "22:56:25 UT"}, {"t": 16.2, "v": 18.9, "text": "23:04:05 UT"}]}, "mark": {"type": "text", "fontSize": 14, "color": "#222", "align": "left", "baseline": "middle"},
  "encoding": {"y": {"field": "v", "type": "quantitative", "scale": {"type": "log", "domain": [0.0954, 450], "range": [726.7, 582.7], "nice": false}, "axis": null}, "text": {"field": "text"}}},
 {"data": {"values": [{"t": 5.38, "v": 0.1117, "text": "Phase 1"}, {"t": 12.91, "v": 0.1117, "text": "Phase 2"}, {"t": 19.87, "v": 0.1117, "text": "Phase 3"}]}, "mark": {"type": "text", "fontSize": 20, "color": "#111", "align": "center", "baseline": "alphabetic"},
  "encoding": {"y": {"field": "v", "type": "quantitative", "scale": {"type": "log", "domain": [0.0954, 450], "range": [726.7, 582.7], "nice": false}, "axis": null}, "text": {"field": "text"}}},
 {"data": {"values": [{"t": 8.4167, "v": 0.0954, "v2": 0.32}, {"t": 16.0833, "v": 0.0954, "v2": 0.32}]}, "mark": {"type": "rule", "stroke": "#222", "strokeWidth": 1.5},
  "encoding": {"y": {"field": "v", "type": "quantitative", "scale": {"type": "log", "domain": [0.0954, 450], "range": [726.7, 582.7], "nice": false}, "axis": null}, "y2": {"field": "v2"}}},

 {"data": {"values": [{"t": 8.4167, "v": 23.62, "v2": -15.85}, {"t": 16.0833, "v": 2.11, "v2": -16.6}]}, "mark": {"type": "rule", "stroke": "#ff0000", "strokeWidth": 5, "strokeDash": [6, 6], "strokeCap": "butt"},
  "encoding": {"y": {"field": "v", "type": "quantitative", "scale": {"domain": [14, 24.8], "range": [297.5, 154.5], "nice": false, "zero": false}, "axis": null}, "y2": {"field": "v2"}}},
 {"data": {"values": [{"t": 8.4167, "v": -16.42}, {"t": 16.0833, "v": -17.09}]}, "mark": {"type": "point", "shape": "triangle-down", "filled": true, "fill": "#ff0000", "stroke": null, "opacity": 1, "size": 320},
  "encoding": {"y": {"field": "v", "type": "quantitative", "scale": {"domain": [14, 24.8], "range": [297.5, 154.5], "nice": false, "zero": false}, "axis": null}}},
 {"data": {"values": [{"t": 1.456, "v": 7.68, "text": "Phase 1"}, {"t": 11.58, "v": 7.68, "text": "2"}, {"t": 19.3, "v": 7.68, "text": "3"}, {"t": -17.34, "v": 0.1415, "text": "Pnth"}]}, "mark": {"type": "text", "fontSize": 52.5, "fontWeight": "bold", "color": "#ff0000", "align": "center", "baseline": "alphabetic"},
  "encoding": {"y": {"field": "v", "type": "quantitative", "scale": {"type": "log", "domain": [0.0954, 450], "range": [726.7, 582.7], "nice": false}, "axis": null}, "text": {"field": "text"}}},
 {"data": {"values": [{"t": -16.96, "v": 15.32, "text": "Temperatur"}, {"t": -16.96, "v": 10.87, "text": "e"}]}, "mark": {"type": "text", "fontSize": 52.5, "fontWeight": "bold", "color": "#ff0000", "align": "center", "baseline": "alphabetic"},
  "encoding": {"y": {"field": "v", "type": "quantitative", "scale": {"domain": [14, 24.8], "range": [297.5, 154.5], "nice": false, "zero": false}, "axis": null}, "text": {"field": "text"}}},
 {"data": {"values": [{"t": -17.34, "v": -0.289, "text": "EM"}]}, "mark": {"type": "text", "fontSize": 52.5, "fontWeight": "bold", "color": "#ff0000", "align": "center", "baseline": "alphabetic"},
  "encoding": {"y": {"field": "v", "type": "quantitative", "scale": {"domain": [0, 1.5833], "range": [440, 297.5], "nice": false, "zero": false}, "axis": null}, "text": {"field": "text"}}},
 {"data": {"values": [{"t": -17.34, "v": 18.55, "text": "Eth"}]}, "mark": {"type": "text", "fontSize": 52.5, "fontWeight": "bold", "color": "#ff0000", "align": "center", "baseline": "alphabetic"},
  "encoding": {"y": {"field": "v", "type": "quantitative", "scale": {"domain": [25.8, 103.66], "range": [582.7, 440], "nice": false, "zero": false}, "axis": null}, "text": {"field": "text"}}},
 {"data": {"values": [{"t": -15.63, "v": 186.7, "text": "2004-11-04"}, {"t": -15.63, "v": 0.0234, "text": "flare"}]}, "mark": {"type": "text", "fontSize": 56, "fontWeight": "bold", "color": "#ffff66", "align": "center", "baseline": "alphabetic"},
  "encoding": {"y": {"field": "v", "type": "quantitative", "scale": {"type": "log", "domain": [0.229, 1.1e8], "range": [154.5, 5], "nice": false}, "axis": null}, "text": {"field": "text"}}},

 {"data": {"values": [{"t": -7.59, "v": 15.32, "t2": 6.39, "v2": 23.83}]}, "mark": {"type": "rule", "stroke": "#009a9a", "strokeWidth": 5},
  "encoding": {"x2": {"field": "t2"}, "y": {"field": "v", "type": "quantitative", "scale": {"domain": [14, 24.8], "range": [297.5, 154.5], "nice": false, "zero": false}, "axis": null}, "y2": {"field": "v2"}}},
 {"data": {"values": [{"t": -14.49, "v": 0.222, "t2": 6.71, "v2": 0.407}]}, "mark": {"type": "rule", "stroke": "#009a9a", "strokeWidth": 5},
  "encoding": {"x2": {"field": "t2"}, "y": {"field": "v", "type": "quantitative", "scale": {"domain": [0, 1.5833], "range": [440, 297.5], "nice": false, "zero": false}, "axis": null}, "y2": {"field": "v2"}}},
 {"data": {"values": [{"t": -13.8, "v": 45.28, "t2": 5.85, "v2": 51.66}, {"t": -13.8, "v": 45.28, "t2": 8.97, "v2": -6.05}]}, "mark": {"type": "rule", "stroke": "#009a9a", "strokeWidth": 5},
  "encoding": {"x2": {"field": "t2"}, "y": {"field": "v", "type": "quantitative", "scale": {"domain": [25.8, 103.66], "range": [582.7, 440], "nice": false, "zero": false}, "axis": null}, "y2": {"field": "v2"}}},
 {"data": {"values": [{"t": -13.29, "v": 3.0, "t2": 3.51, "v2": 4.74}]}, "mark": {"type": "rule", "stroke": "#009a9a", "strokeWidth": 5},
  "encoding": {"x2": {"field": "t2"}, "y": {"field": "v", "type": "quantitative", "scale": {"type": "log", "domain": [0.0954, 450], "range": [726.7, 582.7], "nice": false}, "axis": null}, "y2": {"field": "v2"}}},
 {"data": {"values": [{"t": 6.39, "v": 23.83}]}, "mark": {"type": "point", "shape": "triangle-right", "filled": true, "fill": "#009a9a", "stroke": null, "opacity": 1, "size": 340, "angle": -27},
  "encoding": {"y": {"field": "v", "type": "quantitative", "scale": {"domain": [14, 24.8], "range": [297.5, 154.5], "nice": false, "zero": false}, "axis": null}}},
 {"data": {"values": [{"t": 6.71, "v": 0.407}]}, "mark": {"type": "point", "shape": "triangle-right", "filled": true, "fill": "#009a9a", "stroke": null, "opacity": 1, "size": 340, "angle": -2.8},
  "encoding": {"y": {"field": "v", "type": "quantitative", "scale": {"domain": [0, 1.5833], "range": [440, 297.5], "nice": false, "zero": false}, "axis": null}}},
 {"data": {"values": [{"t": 5.85, "v": 51.66}]}, "mark": {"type": "point", "shape": "triangle-right", "filled": true, "fill": "#009a9a", "stroke": null, "opacity": 1, "size": 340, "angle": -2.2},
  "encoding": {"y": {"field": "v", "type": "quantitative", "scale": {"domain": [25.8, 103.66], "range": [582.7, 440], "nice": false, "zero": false}, "axis": null}}},
 {"data": {"values": [{"t": 8.97, "v": -6.05}]}, "mark": {"type": "point", "shape": "triangle-right", "filled": true, "fill": "#009a9a", "stroke": null, "opacity": 1, "size": 340, "angle": 14.7},
  "encoding": {"y": {"field": "v", "type": "quantitative", "scale": {"domain": [25.8, 103.66], "range": [582.7, 440], "nice": false, "zero": false}, "axis": null}}},
 {"data": {"values": [{"t": 3.51, "v": 4.74}]}, "mark": {"type": "point", "shape": "triangle-right", "filled": true, "fill": "#009a9a", "stroke": null, "opacity": 1, "size": 340, "angle": -1.7},
  "encoding": {"y": {"field": "v", "type": "quantitative", "scale": {"type": "log", "domain": [0.0954, 450], "range": [726.7, 582.7], "nice": false}, "axis": null}}}
]
}
